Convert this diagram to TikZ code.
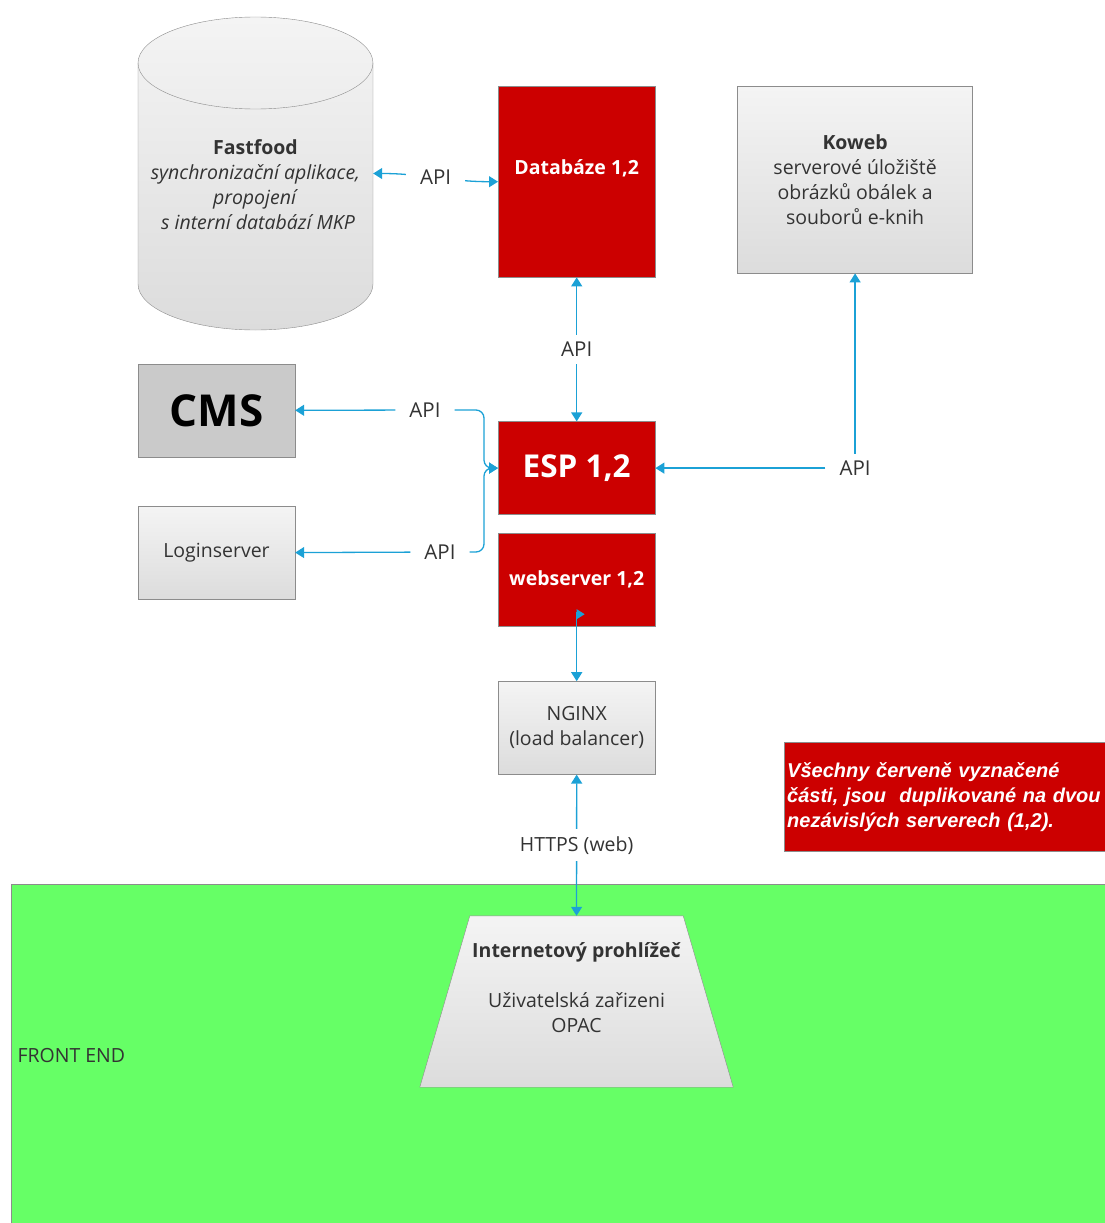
\documentclass[tikz,border=0pt]{standalone}
\usepackage{fontspec}
\setmainfont{Open Sans}
\newfontfamily\notefont{Liberation Sans}
\usetikzlibrary{arrows.meta,positioning}
\definecolor{espred}{HTML}{CC0000}
\definecolor{linkblue}{HTML}{1BA1D6}
\definecolor{boxgray}{HTML}{8C8C8C}
\definecolor{boxtop}{HTML}{F4F4F4}
\definecolor{boxbottom}{HTML}{DCDCDC}
\definecolor{cmsgray}{HTML}{CACACA}
\definecolor{frontgreen}{HTML}{66FF66}
\definecolor{textgray}{HTML}{333333}

\begin{document}
\begin{tikzpicture}[
    x=1pt, y=1pt,
    >={Triangle[length=9pt, width=11pt]},
    every node/.style={text=textgray, font=\fontsize{19.5}{25}\selectfont},
    box/.style={draw=boxgray, top color=boxtop, bottom color=boxbottom, minimum width=157pt, minimum height=93pt, inner sep=0pt, align=center},
    redbox/.style={draw=boxgray, fill=espred, text=white, minimum width=157pt, minimum height=93pt, inner sep=0pt, align=center, font=\fontsize{19.5}{25}\selectfont\bfseries},
    link/.style={draw=linkblue, line width=1.3pt},
    api/.style={fill=white, inner xsep=14pt, inner ysep=7pt, font=\fontsize{20.5}{25}\selectfont}
]
\useasboundingbox (0,0) rectangle (1104,-1223);

% front end area
\node[draw=boxgray, fill=frontgreen, minimum width=1110pt, minimum height=360pt, anchor=north west, inner sep=0pt] (frontend) at (11,-884) {};
\node[anchor=west] (frontlabel) at (14,-1056) {FRONT END};

% Fastfood cylinder
\path[draw=boxgray, top color=boxtop, bottom color=boxbottom] (138,-63) -- (138,-284) arc[start angle=180, end angle=360, x radius=117.5, y radius=46] -- (373,-63) arc[start angle=0, end angle=180, x radius=117.5, y radius=46] -- cycle;
\draw[boxgray] (138,-63) arc[start angle=180, end angle=360, x radius=117.5, y radius=46];
\node[minimum width=235pt, minimum height=313pt, inner sep=0pt] (fastfood) at (255.5,-173.5) {};
\node[align=center] (fftext) at ([yshift=-11pt]fastfood.center) {\textbf{Fastfood}\\\textit{synchronizační aplikace,}\\\textit{propojení}\\\textit{\ s interní databází MKP}};

% servers
\node[redbox, minimum height=191pt, text depth=29pt, anchor=north west] (db) at (498,-86) {Databáze 1,2};
\node[box, minimum width=235pt, minimum height=187pt, right=82pt of db.north east, anchor=north west] (koweb) {\textbf{Koweb}\\serverové úložiště\\obrázků obálek a\\souborů e-knih};
\node[redbox, font=\fontsize{31.5}{36}\selectfont\bfseries, below=144pt of db] (esp) {ESP 1,2};
\node[redbox, below=18pt of esp] (web) {webserver 1,2};
\node[box, below=55pt of web] (nginx) {NGINX\\(load balancer)};

\node[box, top color=cmsgray, bottom color=cmsgray, text=black, font=\fontsize{44}{50}\selectfont\bfseries] (cms) at (216.5,-410.5) {CMS};
\node[box, below=49pt of cms] (login) {Loginserver};

% note
\node[draw=boxgray, fill=espred, text=white, minimum width=330pt, minimum height=109pt, text width=400pt, inner xsep=3pt, align=left, anchor=north west, font=\notefont\fontsize{20}{25}\selectfont\bfseries\itshape] (note) at (784,-742) {Všechny červeně vyznačené\\části, jsou \ duplikované na dvou\\nezávislých serverech (1,2).};

% browser
\node[minimum width=313pt, minimum height=171pt, inner sep=0pt] (browser) at (576.5,-1001.5) {};
\path[draw=boxgray, top color=boxtop, bottom color=boxbottom] (browser.south west) -- (browser.south east) -- ([xshift=-50pt]browser.north east) -- ([xshift=50pt]browser.north west) -- cycle;
\node[align=center] (browsertext) at ([yshift=14pt]browser.center) {\textbf{Internetový prohlížeč}\\[25pt]Uživatelská zařizeni\\OPAC};

% connectors
\draw[link, <->] (fastfood.east) to[out=0, in=180] node[api] (apifast) {API} (db.west);
\draw[link, <->] (db) -- node[api] (apiesp) {API} (esp);

\coordinate (join) at ([xshift=-14pt]esp.west);
\node[api] (apicms) at (425,-410) {API};
\node[api] (apilogin) at (440,-552) {API};
\draw[link, ->] (apicms) -- (cms);
\draw[link, ->] (apilogin) -- (login);
\draw[link, ->, rounded corners=8pt] (apicms.east) -| (join) -- (esp.west);
\draw[link, ->, rounded corners=8pt] (apilogin.east) -| (join) -- (esp.west);

\node[api] (apikoweb) at (koweb.south |- esp.east) {API};
\draw[link, ->] (apikoweb) -- (esp);
\draw[link, ->] (apikoweb) -- (koweb);

\draw[link, ->] ([yshift=14pt]web.south) -- (nginx);
\fill[linkblue] ([yshift=17pt]web.south) -- ++(8,-5) -- ++(-8,-5) -- cycle;
\draw[link, <->] (nginx) -- node[api, font=\fontsize{19.5}{25}\selectfont] (apihttps) {HTTPS (web)} (browser);

\end{tikzpicture}
\end{document}
